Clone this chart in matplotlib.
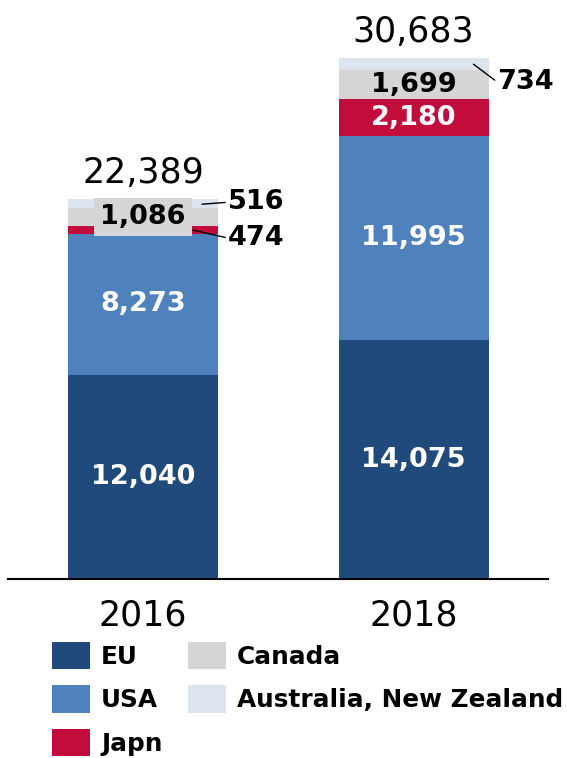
import matplotlib
matplotlib.use("Agg")
import matplotlib.pyplot as plt
import numpy as np

years = ["2016", "2018"]
regions = ["EU", "USA", "Japn", "Canada", "Australia, New Zealand"]
eu = [12040, 14075]
usa = [8273, 11995]
japan = [474, 2180]
canada = [1086, 1699]
aus_nz = [516, 734]
totals = [22389, 30683]

series = [eu, usa, japan, canada, aus_nz]
colors = ["#214a7c", "#4f81bd", "#c20c3c", "#d5d5d5", "#dce4f0"]
label_colors = ["white", "white", "white", "black", "black"]

plt.rcParams['font.family'] = ['DejaVu Sans']

W, H = 567, 758
fig = plt.figure(figsize=(W / 100, H / 100), dpi=100)
base_px = 579
scale = 0.01698  # px per unit
ax = fig.add_axes([8 / W, (H - base_px) / H, 540 / W, (base_px - 0) / H])
ax.set_ylim(0, base_px / scale)
unit = 270.5
ax.set_xlim(-(143 - 8) / unit, 1 + (548 - 413.5) / unit)

x = np.arange(len(years))
width = 150 / unit
bottom = np.zeros(len(years))
handles = []
for vals, col, name in zip(series, colors, regions):
    b = ax.bar(x, vals, width, bottom=bottom, color=col, label=name, linewidth=0)
    handles.append(b)
    bottom = bottom + np.array(vals)

cum = np.zeros(len(years))
seg_bottoms = []
for vals in series:
    seg_bottoms.append(cum.copy())
    cum = cum + np.array(vals)

fs = 19.5
for si, (vals, lc) in enumerate(zip(series, label_colors)):
    for i in range(len(years)):
        yc = seg_bottoms[si][i] + vals[i] / 2
        txt = f"{vals[i]:,}"
        if si in (0, 1) or (si == 2 and i == 1):
            ax.text(x[i], yc, txt, ha="center", va="center", color=lc,
                    fontsize=fs, fontweight="bold")
        elif si == 3:
            kw = {}
            if i == 0:
                kw["bbox"] = dict(facecolor=colors[3], edgecolor="none", pad=4.5)
            ax.text(x[i], yc, txt, ha="center", va="center", color=lc,
                    fontsize=fs, fontweight="bold", **kw)

def side_label(i, si, dx_start, dy_start_px, xt_off, yt_off_px):
    yc = seg_bottoms[si][i] + series[si][i] / 2
    ax.annotate(f"{series[si][i]:,}", xy=(x[i] + dx_start, yc + dy_start_px / scale),
                xytext=(x[i] + width / 2 + xt_off, yc + yt_off_px / scale),
                ha="left", va="center", fontsize=fs, fontweight="bold",
                color="black",
                arrowprops=dict(arrowstyle="-", color="black", lw=1.0,
                                shrinkA=0, shrinkB=0, relpos=(0, 0.5)))

side_label(0, 4, 59 / unit, -1, 10 / unit, 1)
side_label(0, 2, 50 / unit, 0, 10 / unit, -8)
side_label(1, 4, 60 / unit, 0, 9 / unit, -18)

for i in range(len(years)):
    ax.annotate(f"{totals[i]:,}", xy=(x[i], totals[i]), xytext=(0, 16),
                textcoords="offset pixels", ha="center", va="baseline",
                fontsize=25, color="black")

for s in ["top", "left", "right"]:
    ax.spines[s].set_visible(False)
ax.spines["bottom"].set_linewidth(1.5)
ax.spines["bottom"].set_color("black")
ax.set_yticks([])
ax.set_xticks(x)
ax.set_xticklabels(years, fontsize=25)
ax.tick_params(axis="x", length=0, pad=14)

leg = fig.legend(handles=handles, labels=regions, ncol=2, loc="upper left",
                 bbox_to_anchor=(52 / W, 1 - 642 / H), frameon=False,
                 prop=dict(weight="bold", size=17.8), handlelength=1.54,
                 handleheight=1.32, handletextpad=0.45, columnspacing=1.03,
                 labelspacing=0.65, borderpad=0, borderaxespad=0)

fig.savefig("out.png", dpi=100)
